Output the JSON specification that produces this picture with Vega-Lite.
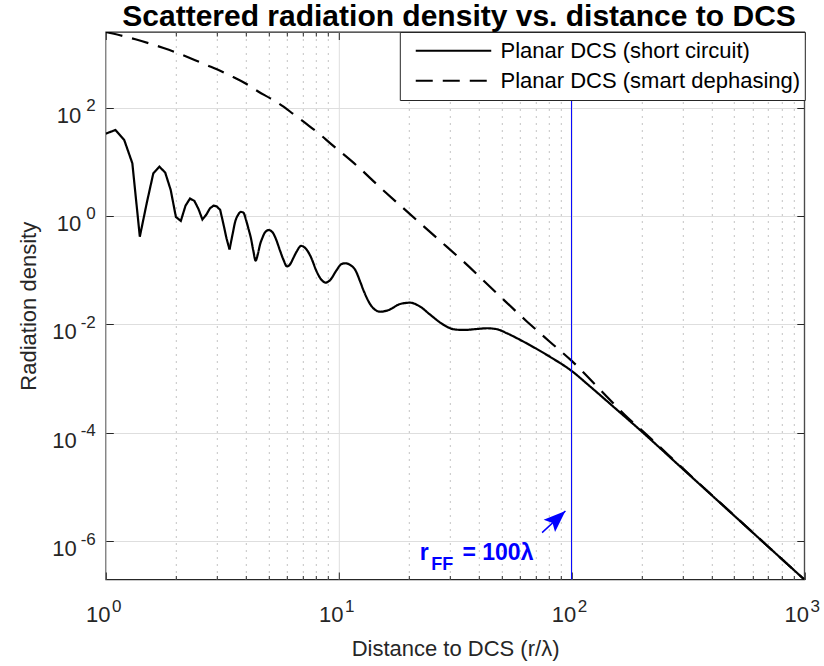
{
  "$schema": "https://vega.github.io/schema/vega-lite/v6.json",
  "width": 698.5,
  "height": 547.5,
  "autosize": "none",
  "padding": {"left": 105.8, "top": 32, "right": 19.7, "bottom": 86.5},
  "background": "white",
  "title": {"text": "Scattered radiation density vs. distance to DCS", "font": "Liberation Sans", "fontSize": 30, "fontWeight": "bold", "color": "black", "anchor": "middle", "baseline": "alphabetic", "offset": 5, "dy": 29, "dx": 4},
  "config": {
    "view": {"stroke": "#262626", "strokeWidth": 1.3},
    "font": "Liberation Sans",
    "axis": {"domain": false, "labelFont": "Liberation Sans", "titleFont": "Liberation Sans", "labelColor": "#262626", "titleColor": "#262626", "tickColor": "#262626", "labelOverlap": false, "labelFlush": false, "labelBound": false}
  },
  "datasets": {
    "near": [
      {"series": "Planar DCS (short circuit)", "r": 1.0, "d": 33},
      {"series": "Planar DCS (short circuit)", "r": 1.1, "d": 38.6},
      {"series": "Planar DCS (short circuit)", "r": 1.2, "d": 25.2},
      {"series": "Planar DCS (short circuit)", "r": 1.3, "d": 9.4},
      {"series": "Planar DCS (short circuit)", "r": 1.4, "d": 0.415},
      {"series": "Planar DCS (short circuit)", "r": 1.5, "d": 1.75},
      {"series": "Planar DCS (short circuit)", "r": 1.6, "d": 6.13},
      {"series": "Planar DCS (short circuit)", "r": 1.7, "d": 8.12},
      {"series": "Planar DCS (short circuit)", "r": 1.8, "d": 6.29},
      {"series": "Planar DCS (short circuit)", "r": 1.9, "d": 3.02},
      {"series": "Planar DCS (short circuit)", "r": 2.0, "d": 0.96},
      {"series": "Planar DCS (short circuit)", "r": 2.1, "d": 0.81},
      {"series": "Planar DCS (short circuit)", "r": 2.2, "d": 1.55},
      {"series": "Planar DCS (short circuit)", "r": 2.3, "d": 2.1},
      {"series": "Planar DCS (short circuit)", "r": 2.4, "d": 1.9},
      {"series": "Planar DCS (short circuit)", "r": 2.5, "d": 1.35},
      {"series": "Planar DCS (short circuit)", "r": 2.6, "d": 0.86},
      {"series": "Planar DCS (short circuit)", "r": 2.7, "d": 1.05},
      {"series": "Planar DCS (short circuit)", "r": 2.8, "d": 1.38},
      {"series": "Planar DCS (short circuit)", "r": 2.9, "d": 1.55},
      {"series": "Planar DCS (short circuit)", "r": 3.0, "d": 1.5},
      {"series": "Planar DCS (short circuit)", "r": 3.1, "d": 1.29},
      {"series": "Planar DCS (short circuit)", "r": 3.2, "d": 0.71},
      {"series": "Planar DCS (short circuit)", "r": 3.3, "d": 0.385},
      {"series": "Planar DCS (short circuit)", "r": 3.4, "d": 0.24}
    ],
    "far": [
      {"series": "Planar DCS (short circuit)", "r": 3.4, "d": 0.24},
      {"series": "Planar DCS (short circuit)", "r": 3.5, "d": 0.45},
      {"series": "Planar DCS (short circuit)", "r": 3.6, "d": 0.8},
      {"series": "Planar DCS (short circuit)", "r": 3.7, "d": 1.05},
      {"series": "Planar DCS (short circuit)", "r": 3.8, "d": 1.19},
      {"series": "Planar DCS (short circuit)", "r": 3.9, "d": 1.15},
      {"series": "Planar DCS (short circuit)", "r": 4.0, "d": 0.85},
      {"series": "Planar DCS (short circuit)", "r": 4.1, "d": 0.58},
      {"series": "Planar DCS (short circuit)", "r": 4.2, "d": 0.39},
      {"series": "Planar DCS (short circuit)", "r": 4.3, "d": 0.23},
      {"series": "Planar DCS (short circuit)", "r": 4.4, "d": 0.15},
      {"series": "Planar DCS (short circuit)", "r": 4.5, "d": 0.2},
      {"series": "Planar DCS (short circuit)", "r": 4.6, "d": 0.3},
      {"series": "Planar DCS (short circuit)", "r": 4.7, "d": 0.39},
      {"series": "Planar DCS (short circuit)", "r": 4.8, "d": 0.48},
      {"series": "Planar DCS (short circuit)", "r": 4.9, "d": 0.53},
      {"series": "Planar DCS (short circuit)", "r": 5.0, "d": 0.55},
      {"series": "Planar DCS (short circuit)", "r": 5.2, "d": 0.5},
      {"series": "Planar DCS (short circuit)", "r": 5.4, "d": 0.36},
      {"series": "Planar DCS (short circuit)", "r": 5.6, "d": 0.23},
      {"series": "Planar DCS (short circuit)", "r": 5.8, "d": 0.154},
      {"series": "Planar DCS (short circuit)", "r": 6.0, "d": 0.117},
      {"series": "Planar DCS (short circuit)", "r": 6.2, "d": 0.13},
      {"series": "Planar DCS (short circuit)", "r": 6.4, "d": 0.17},
      {"series": "Planar DCS (short circuit)", "r": 6.6, "d": 0.22},
      {"series": "Planar DCS (short circuit)", "r": 6.9, "d": 0.28},
      {"series": "Planar DCS (short circuit)", "r": 7.2, "d": 0.254},
      {"series": "Planar DCS (short circuit)", "r": 7.6, "d": 0.175},
      {"series": "Planar DCS (short circuit)", "r": 8.0, "d": 0.1},
      {"series": "Planar DCS (short circuit)", "r": 8.4, "d": 0.068},
      {"series": "Planar DCS (short circuit)", "r": 8.8, "d": 0.059},
      {"series": "Planar DCS (short circuit)", "r": 9.2, "d": 0.066},
      {"series": "Planar DCS (short circuit)", "r": 9.8, "d": 0.1},
      {"series": "Planar DCS (short circuit)", "r": 10.3, "d": 0.13},
      {"series": "Planar DCS (short circuit)", "r": 10.7, "d": 0.134},
      {"series": "Planar DCS (short circuit)", "r": 11.2, "d": 0.125},
      {"series": "Planar DCS (short circuit)", "r": 11.8, "d": 0.1},
      {"series": "Planar DCS (short circuit)", "r": 12.4, "d": 0.06},
      {"series": "Planar DCS (short circuit)", "r": 12.8, "d": 0.042},
      {"series": "Planar DCS (short circuit)", "r": 13.9, "d": 0.0212},
      {"series": "Planar DCS (short circuit)", "r": 15.1, "d": 0.0171},
      {"series": "Planar DCS (short circuit)", "r": 16.4, "d": 0.0184},
      {"series": "Planar DCS (short circuit)", "r": 18.4, "d": 0.0238},
      {"series": "Planar DCS (short circuit)", "r": 20.3, "d": 0.0251},
      {"series": "Planar DCS (short circuit)", "r": 22.4, "d": 0.0212},
      {"series": "Planar DCS (short circuit)", "r": 24.8, "d": 0.0149},
      {"series": "Planar DCS (short circuit)", "r": 28.3, "d": 0.00975},
      {"series": "Planar DCS (short circuit)", "r": 31.2, "d": 0.00812},
      {"series": "Planar DCS (short circuit)", "r": 34.4, "d": 0.00788},
      {"series": "Planar DCS (short circuit)", "r": 39.3, "d": 0.00822},
      {"series": "Planar DCS (short circuit)", "r": 43.4, "d": 0.00847},
      {"series": "Planar DCS (short circuit)", "r": 47.9, "d": 0.00812},
      {"series": "Planar DCS (short circuit)", "r": 52.8, "d": 0.00686},
      {"series": "Planar DCS (short circuit)", "r": 58.4, "d": 0.00554},
      {"series": "Planar DCS (short circuit)", "r": 66.6, "d": 0.00409},
      {"series": "Planar DCS (short circuit)", "r": 81.1, "d": 0.0025},
      {"series": "Planar DCS (short circuit)", "r": 100, "d": 0.00139},
      {"series": "Planar DCS (short circuit)", "r": 120, "d": 0.00072},
      {"series": "Planar DCS (short circuit)", "r": 150, "d": 0.000313},
      {"series": "Planar DCS (short circuit)", "r": 200, "d": 0.000106},
      {"series": "Planar DCS (short circuit)", "r": 300, "d": 0.0000217},
      {"series": "Planar DCS (short circuit)", "r": 500, "d": 0.00000295},
      {"series": "Planar DCS (short circuit)", "r": 700, "d": 0.00000079},
      {"series": "Planar DCS (short circuit)", "r": 1000, "d": 0.000000196},
      {"series": "Planar DCS (smart dephasing)", "r": 1.0, "d": 2480},
      {"series": "Planar DCS (smart dephasing)", "r": 1.15, "d": 2160},
      {"series": "Planar DCS (smart dephasing)", "r": 1.34, "d": 1820},
      {"series": "Planar DCS (smart dephasing)", "r": 1.55, "d": 1510},
      {"series": "Planar DCS (smart dephasing)", "r": 1.77, "d": 1255},
      {"series": "Planar DCS (smart dephasing)", "r": 2.05, "d": 1000},
      {"series": "Planar DCS (smart dephasing)", "r": 2.35, "d": 790},
      {"series": "Planar DCS (smart dephasing)", "r": 2.72, "d": 605},
      {"series": "Planar DCS (smart dephasing)", "r": 3.0, "d": 509},
      {"series": "Planar DCS (smart dephasing)", "r": 3.54, "d": 362},
      {"series": "Planar DCS (smart dephasing)", "r": 3.97, "d": 281},
      {"series": "Planar DCS (smart dephasing)", "r": 4.53, "d": 196},
      {"series": "Planar DCS (smart dephasing)", "r": 5.09, "d": 148},
      {"series": "Planar DCS (smart dephasing)", "r": 5.8, "d": 104},
      {"series": "Planar DCS (smart dephasing)", "r": 6.41, "d": 75},
      {"series": "Planar DCS (smart dephasing)", "r": 7.32, "d": 49},
      {"series": "Planar DCS (smart dephasing)", "r": 8.2, "d": 33.6},
      {"series": "Planar DCS (smart dephasing)", "r": 9.21, "d": 21.9},
      {"series": "Planar DCS (smart dephasing)", "r": 12, "d": 8.4},
      {"series": "Planar DCS (smart dephasing)", "r": 15, "d": 3.43},
      {"series": "Planar DCS (smart dephasing)", "r": 19.7, "d": 1.2},
      {"series": "Planar DCS (smart dephasing)", "r": 27, "d": 0.361},
      {"series": "Planar DCS (smart dephasing)", "r": 34.4, "d": 0.1435},
      {"series": "Planar DCS (smart dephasing)", "r": 48, "d": 0.0368},
      {"series": "Planar DCS (smart dephasing)", "r": 64.5, "d": 0.0112},
      {"series": "Planar DCS (smart dephasing)", "r": 80, "d": 0.00494},
      {"series": "Planar DCS (smart dephasing)", "r": 100, "d": 0.00214},
      {"series": "Planar DCS (smart dephasing)", "r": 142, "d": 0.000463},
      {"series": "Planar DCS (smart dephasing)", "r": 175, "d": 0.000187},
      {"series": "Planar DCS (smart dephasing)", "r": 200, "d": 0.000112},
      {"series": "Planar DCS (smart dephasing)", "r": 300, "d": 0.0000222},
      {"series": "Planar DCS (smart dephasing)", "r": 500, "d": 0.00000297},
      {"series": "Planar DCS (smart dephasing)", "r": 700, "d": 0.00000079},
      {"series": "Planar DCS (smart dephasing)", "r": 1000, "d": 0.000000196}
    ],
    "marker": [{"r": 100}],
    "annot": [{"r": 22.3, "d": 0.00000045}],
    "arrow": [{"r": 74.8, "d": 0.000001435, "r2": 94.2, "d2": 0.00000361}]
  },
  "resolve": {"axis": {"x": "independent", "y": "independent"}},
  "layer": [
    {
      "data": {"name": "near"},
      "mark": {"type": "line", "color": "black", "strokeWidth": 2.2, "interpolate": "linear", "clip": true},
      "encoding": {
        "x": {"field": "r", "type": "quantitative", "scale": {"type": "log", "domain": [1, 1000], "nice": false},
          "axis": {"orient": "bottom", "values": [1, 10, 100, 1000], "labelExpr": "'10'", "labelFontSize": 22, "labelOffset": -8, "labelBaseline": "alphabetic", "labelPadding": 49.7, "tickSize": -7.5, "tickWidth": 1, "grid": true, "gridColor": "#dedede", "gridWidth": 1,
            "title": "Distance to DCS (r/λ)", "titleFontSize": 22, "titleFontWeight": "normal", "titleBaseline": "alphabetic", "titleY": 75.5}},
        "y": {"field": "d", "type": "quantitative", "scale": {"type": "log", "domain": [0.000000196, 2480], "nice": false},
          "axis": {"orient": "left", "values": [0.000001, 0.0001, 0.01, 1, 100], "labelExpr": "datum.value < 0.5 ? '10' : ''", "labelFontSize": 22, "labelAlign": "right", "labelBaseline": "alphabetic", "labelOffset": 14.5, "labelPadding": 37, "tickSize": -7.5, "tickWidth": 1, "grid": true, "gridColor": "#dedede", "gridWidth": 1,
            "title": "Radiation density", "titleFontSize": 22, "titleFontWeight": "normal", "titleBaseline": "alphabetic", "titleAngle": -90, "titleX": -70}},
        "strokeDash": {"field": "series", "type": "nominal",
          "scale": {"domain": ["Planar DCS (short circuit)", "Planar DCS (smart dephasing)"], "range": [[1, 0], [17, 10]]},
          "legend": {"title": null, "orient": "top-right", "offset": 0, "padding": 4, "symbolType": "stroke", "symbolSize": 5700, "symbolStrokeWidth": 2, "symbolStrokeColor": "black", "symbolOffset": 10.7, "labelOffset": 8, "labelFontSize": 22, "labelFont": "Liberation Sans", "labelColor": "black", "labelLimit": 0, "clipHeight": 29.4, "rowPadding": 0, "strokeColor": "#262626", "fillColor": "white"}}
      }
    },
    {
      "data": {"name": "far"},
      "mark": {"type": "line", "color": "black", "strokeWidth": 2.2, "interpolate": "monotone", "clip": true},
      "encoding": {
        "x": {"field": "r", "type": "quantitative", "scale": {"type": "log", "domain": [1, 1000], "nice": false},
          "axis": {"orient": "bottom", "values": [1, 10, 100, 1000], "labelExpr": "'' + round(log(datum.value) / LN10)", "labelFontSize": 17, "labelOffset": 10.5, "labelBaseline": "alphabetic", "labelPadding": 32.2, "ticks": false, "grid": false, "title": null}},
        "y": {"field": "d", "type": "quantitative", "scale": {"type": "log", "domain": [0.000000196, 2480], "nice": false},
          "axis": {"orient": "left", "values": [0.000001, 0.0001, 0.01, 1, 100], "labelExpr": "'' + round(log(datum.value) / LN10)", "labelFontSize": 17, "labelAlign": "right", "labelBaseline": "alphabetic", "labelOffset": 3, "labelPadding": 10.5, "ticks": false, "grid": false, "title": null}},
        "strokeDash": {"field": "series", "type": "nominal",
          "scale": {"domain": ["Planar DCS (short circuit)", "Planar DCS (smart dephasing)"], "range": [[1, 0], [17, 10]]}}
      }
    },
    {
      "data": {"name": "marker"},
      "mark": {"type": "rule", "color": "#0000ff", "strokeWidth": 1},
      "encoding": {
        "x": {"field": "r", "type": "quantitative", "scale": {"type": "log", "domain": [1, 1000], "nice": false},
          "axis": {"orient": "top", "values": [1, 10, 100, 1000], "labels": false, "tickSize": -7.5, "tickWidth": 1, "grid": false, "title": null}}
      }
    },
    {
      "data": {"name": "annot"},
      "mark": {"type": "text", "text": "r", "align": "left", "baseline": "alphabetic", "font": "Liberation Sans", "fontSize": 23, "fontWeight": "bold", "color": "#0000ff"},
      "encoding": {
        "x": {"field": "r", "type": "quantitative", "scale": {"type": "log", "domain": [1, 1000], "nice": false},
          "axis": {"orient": "top", "values": [2, 3, 4, 5, 6, 7, 8, 9, 20, 30, 40, 50, 60, 70, 80, 90, 200, 300, 400, 500, 600, 700, 800, 900], "labels": false, "tickSize": -4, "tickWidth": 1, "grid": true, "gridColor": "#c4c4c4", "gridDash": [2, 5], "gridWidth": 1, "title": null}},
        "y": {"field": "d", "type": "quantitative", "scale": {"type": "log", "domain": [0.000000196, 2480], "nice": false},
          "axis": {"orient": "right", "values": [0.000001, 0.0001, 0.01, 1, 100], "labels": false, "tickSize": -7.5, "tickWidth": 1, "grid": false, "title": null}}
      }
    },
    {
      "data": {"name": "annot"},
      "mark": {"type": "text", "text": "FF", "align": "left", "baseline": "alphabetic", "dx": 11.4, "dy": 10, "font": "Liberation Sans", "fontSize": 18, "fontWeight": "bold", "color": "#0000ff"},
      "encoding": {
        "x": {"field": "r", "type": "quantitative", "scale": {"type": "log", "domain": [1, 1000], "nice": false}, "axis": null},
        "y": {"field": "d", "type": "quantitative", "scale": {"type": "log", "domain": [0.000000196, 2480], "nice": false},
          "axis": {"orient": "left", "values": [1, 100], "labelExpr": "'10'", "labelFontSize": 22, "labelAlign": "right", "labelBaseline": "alphabetic", "labelOffset": 14.5, "labelPadding": 25, "ticks": false, "grid": false, "title": null}}
      }
    },
    {
      "data": {"name": "annot"},
      "mark": {"type": "text", "text": "= 100λ", "align": "left", "baseline": "alphabetic", "dx": 42.7, "font": "Liberation Sans", "fontSize": 23, "fontWeight": "bold", "color": "#0000ff"},
      "encoding": {
        "x": {"field": "r", "type": "quantitative", "scale": {"type": "log", "domain": [1, 1000], "nice": false}, "axis": null},
        "y": {"field": "d", "type": "quantitative", "scale": {"type": "log", "domain": [0.000000196, 2480], "nice": false}, "axis": null}
      }
    },
    {
      "data": {"name": "arrow"},
      "mark": {"type": "rule", "color": "#0000ff", "strokeWidth": 1.5},
      "encoding": {
        "x": {"field": "r", "type": "quantitative", "scale": {"type": "log", "domain": [1, 1000], "nice": false},
          "axis": {"orient": "bottom", "values": [2, 3, 4, 5, 6, 7, 8, 9, 20, 30, 40, 50, 60, 70, 80, 90, 200, 300, 400, 500, 600, 700, 800, 900], "labels": false, "tickSize": -4, "tickWidth": 1, "grid": false, "title": null}},
        "y": {"field": "d", "type": "quantitative", "scale": {"type": "log", "domain": [0.000000196, 2480], "nice": false}, "axis": null},
        "x2": {"field": "r2"},
        "y2": {"field": "d2"}
      }
    },
    {
      "data": {"name": "arrow"},
      "mark": {"type": "point", "shape": "M0,0 L0.38,1 L0,0.8 L-0.38,1 Z", "size": 1936, "angle": 47, "filled": true, "color": "#0000ff", "opacity": 1, "strokeWidth": 0},
      "encoding": {
        "x": {"field": "r2", "type": "quantitative", "scale": {"type": "log", "domain": [1, 1000], "nice": false}, "axis": null},
        "y": {"field": "d2", "type": "quantitative", "scale": {"type": "log", "domain": [0.000000196, 2480], "nice": false}, "axis": null}
      }
    }
  ]
}
